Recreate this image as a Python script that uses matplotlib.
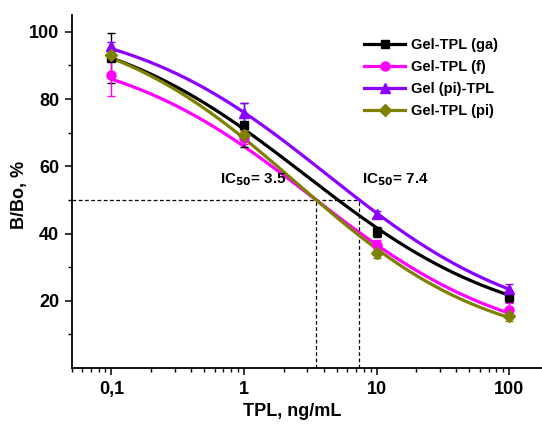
import numpy as np
import matplotlib
matplotlib.use("Agg")
import matplotlib.pyplot as plt

# Measured competition data (B/Bo, %) at each TPL concentration
conc = [0.1, 1, 10, 100]
series_names = ["Gel-TPL (ga)", "Gel-TPL (f)", "Gel (pi)-TPL", "Gel-TPL (pi)"]
ga_vals = [92.2, 72.3, 40.6, 21.2]
ga_err = [7.4, 6.5, 1.5, 1.5]
f_vals = [87.2, 68.5, 36.6, 17.3]
f_err = [6.2, 2.0, 1.5, 2.0]
pi_tpl_vals = [95.8, 75.8, 45.8, 23.4]
pi_tpl_err = [1.2, 3.0, 1.0, 1.5]
pi_vals = [93.0, 69.3, 34.1, 15.5]
pi_err = [1.5, 1.5, 1.5, 1.5]

# Four-parameter logistic fit parameters: top, slope, midpoint, bottom
fit_top = [105, 97, 105, 105]
fit_slope = [0.554, 0.572, 0.570, 0.595]
fit_mid = [2.88, 3.24, 4.24, 2.50]
fit_bottom = [10, 5, 10, 5]

ic50_values = [3.5, 7.4]
x_ticks = [0.1, 1, 10, 100]
x_tick_labels = ["0,1", "1", "10", "100"]
y_ticks = [20, 40, 60, 80, 100]

colors = ["#000000", "#FF00FF", "#8B00FF", "#808000"]
markers = ["s", "o", "^", "D"]
msizes = [6, 6.5, 7.5, 6]

plt.rcParams["font.family"] = ["Liberation Sans", "DejaVu Sans"]
plt.rcParams["font.weight"] = "bold"

fig = plt.figure(figsize=(5.42, 4.28), dpi=100)
ax = fig.add_axes([0.132, 0.140, 0.868, 0.825])

def logistic(x, top, slope, mid, bottom):
    return bottom + (top - bottom) / (1.0 + (x / mid) ** slope)

xs = np.logspace(-1, 2, 300)
all_vals = [ga_vals, f_vals, pi_tpl_vals, pi_vals]
all_err = [ga_err, f_err, pi_tpl_err, pi_err]

for i in range(4):
    ys = logistic(xs, fit_top[i], fit_slope[i], fit_mid[i], fit_bottom[i])
    ax.plot(xs, ys, color=colors[i], lw=2.3, zorder=2)
    ax.errorbar(conc, all_vals[i], yerr=all_err[i], fmt=markers[i],
                color=colors[i], ms=msizes[i], elinewidth=1.0,
                capsize=3, capthick=1.0, zorder=3)
    # legend proxy (line with centered marker)
    ax.plot([], [], color=colors[i], lw=2.3, marker=markers[i],
            ms=msizes[i], label=series_names[i])

# IC50 guide lines
dash = (0, (3, 2))
ax.plot([0.05, max(ic50_values)], [50, 50], color="black", lw=0.9,
        linestyle=dash, zorder=1)
for v in ic50_values:
    ax.plot([v, v], [0, 50], color="black", lw=0.9, linestyle=dash, zorder=1)

ax.text(0.66, 56, "IC$_{\\mathbf{50}}$= 3.5", fontsize=11, fontweight="bold",
        va="center", ha="left")
ax.text(7.7, 56, "IC$_{\\mathbf{50}}$= 7.4", fontsize=11, fontweight="bold",
        va="center", ha="left")

ax.set_xscale("log")
ax.set_xlim(0.05, 177)
ax.set_ylim(0, 105)
ax.set_xticks(x_ticks)
ax.set_xticklabels(x_tick_labels)
ax.set_yticks(y_ticks)
ax.set_yticks([10, 30, 50, 70, 90], minor=True)

for side in ["top", "right"]:
    ax.spines[side].set_visible(False)
for side in ["left", "bottom"]:
    ax.spines[side].set_linewidth(1.3)

ax.tick_params(which="major", direction="out", length=5, width=1.1,
               labelsize=13)
ax.tick_params(axis="y", which="major", pad=4)
ax.tick_params(axis="x", which="major", pad=4)
ax.tick_params(which="minor", direction="out", length=3, width=1.0)
for lab in ax.get_xticklabels() + ax.get_yticklabels():
    lab.set_fontweight("bold")

ax.set_xlabel("TPL, ng/mL", fontsize=13, fontweight="bold")
ax.set_ylabel("B/Bo, %", fontsize=13, fontweight="bold")
ax.xaxis.set_label_coords(0.47, -0.10)
ax.yaxis.set_label_coords(-0.092, 0.49)

leg = ax.legend(loc="upper left", bbox_to_anchor=(0.61, 0.951), frameon=False,
                fontsize=10.5, handlelength=2.8, handletextpad=0.4,
                labelspacing=0.55, borderaxespad=0)
for t in leg.get_texts():
    t.set_fontweight("bold")

fig.savefig("out.png", dpi=100)
